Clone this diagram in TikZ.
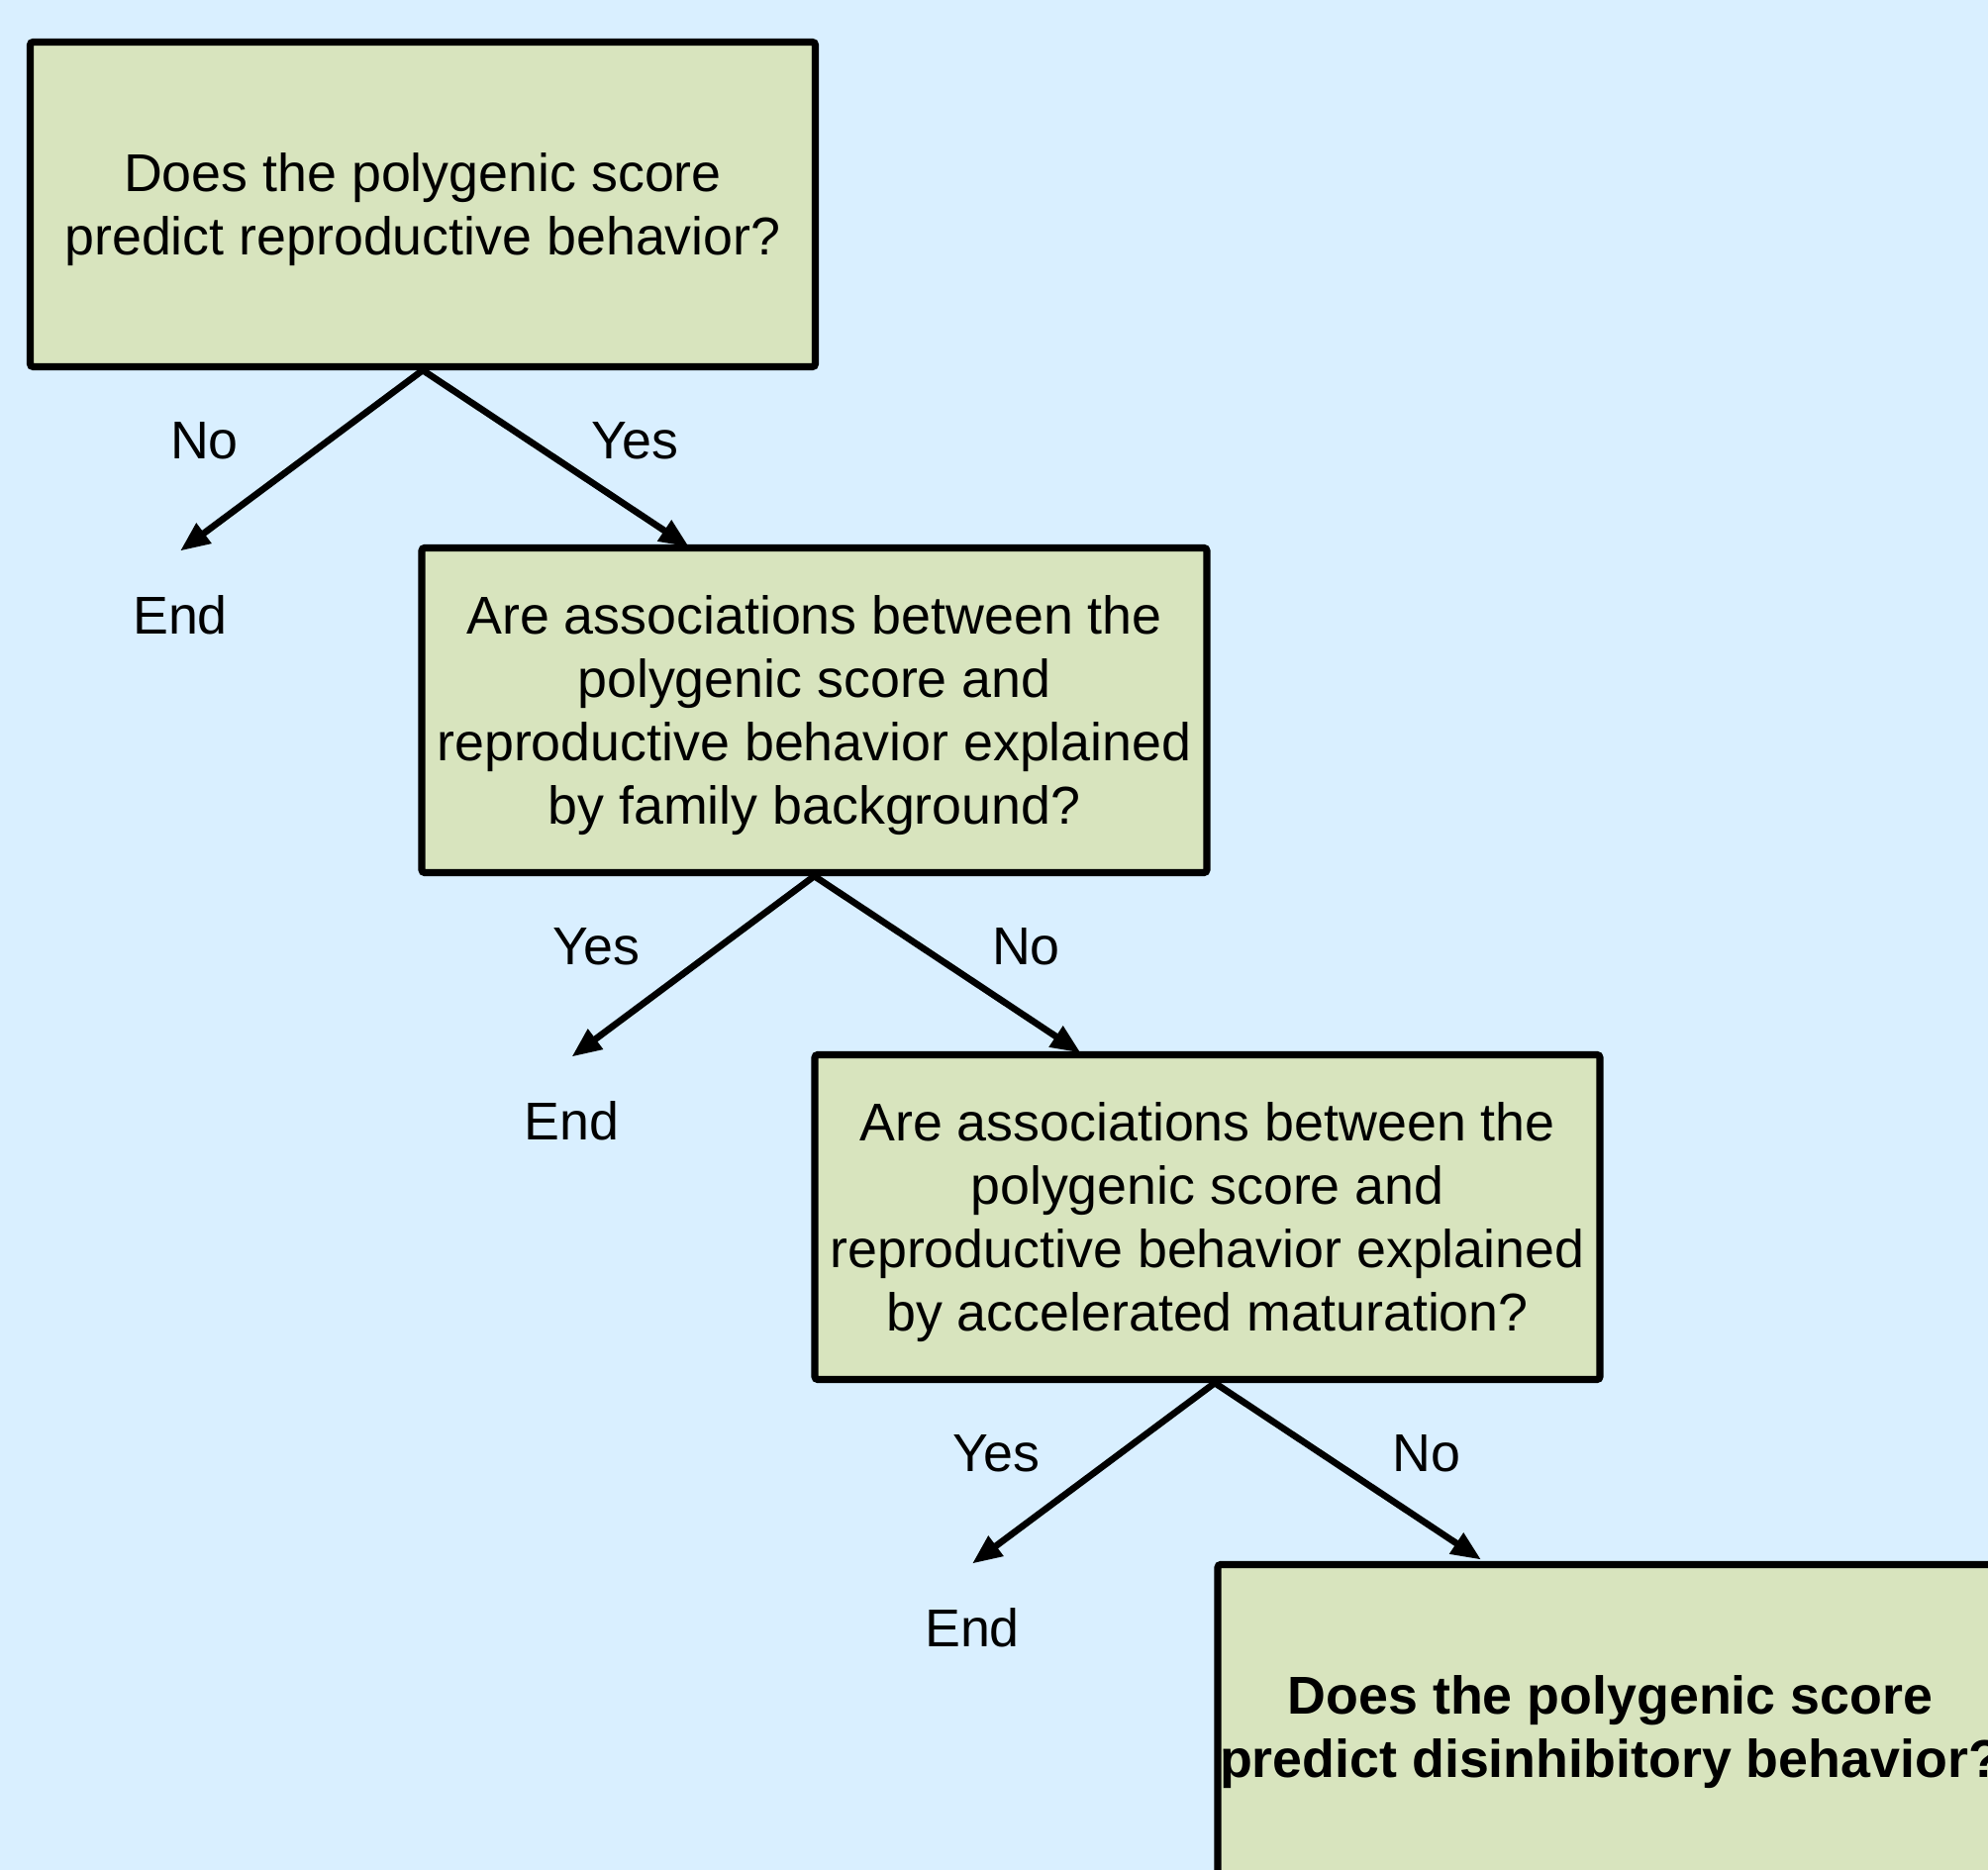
\documentclass[tikz,border=0pt]{standalone}
\usepackage{fontspec}
\setmainfont{Liberation Sans}
\usepackage{xcolor}
\definecolor{bgblue}{RGB}{217,239,255}
\definecolor{boxgreen}{RGB}{216,228,190}
\usetikzlibrary{arrows.meta,positioning}
\newcommand{\qstrut}{\rule{0pt}{0.49cm}}

\begin{document}
\begin{tikzpicture}[
  qbox/.style={draw=black, fill=boxgreen, line width=2pt, rounded corners=0.8pt, minimum width=7.93cm, minimum height=3.28cm, inner sep=0pt, align=center, font=\fontsize{15.3}{18.2}\selectfont},
  ans/.style={inner sep=0pt, font=\fontsize{15.3}{18.2}\selectfont},
  branch/.style={line width=1.9pt, -{Triangle[length=0.3cm, width=0.24cm]}}
]
  \path[use as bounding box, fill=bgblue] (0,0) rectangle (20.08,-18.89);
  \clip (0,0) rectangle (20.08,-18.89);

  \node[qbox] (q1) at (4.27,-2.065) {\qstrut Does the polygenic score\\predict reproductive behavior?};
  \node[qbox] (q2) at (8.225,-7.175) {\qstrut Are associations between the\\polygenic score and\\reproductive behavior explained\\by family background?};
  \node[qbox] (q3) at (12.195,-12.295) {\qstrut Are associations between the\\polygenic score and\\reproductive behavior explained\\by accelerated maturation?};
  \node[qbox, font=\fontsize{15.3}{18.2}\selectfont\bfseries] (q4) at (16.265,-17.445) {\qstrut Does the polygenic score\\predict disinhibitory behavior?};

  \coordinate (q1root) at (q1.south);
  \coordinate (q2root) at (q2.south);
  \coordinate (q3root) at ([xshift=0.075cm]q3.south);

  \coordinate (end1tip) at ([shift={(-2.45,-1.825)}]q1root);
  \coordinate (q2tip) at ([shift={(2.69,-1.785)}]q1root);
  \coordinate (end2tip) at ([shift={(-2.45,-1.825)}]q2root);
  \coordinate (q3tip) at ([shift={(2.69,-1.785)}]q2root);
  \coordinate (end3tip) at ([shift={(-2.45,-1.825)}]q3root);
  \coordinate (q4tip) at ([shift={(2.69,-1.785)}]q3root);

  \draw[branch] (q1root) -- (end1tip);
  \draw[branch] (q1root) -- (q2tip);
  \draw[branch] (q2root) -- (end2tip);
  \draw[branch] (q2root) -- (q3tip);
  \draw[branch] (q3root) -- (end3tip);
  \draw[branch] (q3root) -- (q4tip);

  \node[ans] (no1) at ([shift={(-2.205,-0.71)}]q1root) {No};
  \node[ans] (yes1) at ([shift={(2.14,-0.71)}]q1root) {Yes};
  \node[ans] (end1) at ([shift={(-2.45,-2.47)}]q1root) {End};
  \node[ans] (yes2) at ([shift={(-2.205,-0.71)}]q2root) {Yes};
  \node[ans] (no2) at ([shift={(2.14,-0.71)}]q2root) {No};
  \node[ans] (end2) at ([shift={(-2.45,-2.47)}]q2root) {End};
  \node[ans] (yes3) at ([shift={(-2.205,-0.71)}]q3root) {Yes};
  \node[ans] (no3) at ([shift={(2.14,-0.71)}]q3root) {No};
  \node[ans] (end3) at ([shift={(-2.45,-2.47)}]q3root) {End};
\end{tikzpicture}
\end{document}
